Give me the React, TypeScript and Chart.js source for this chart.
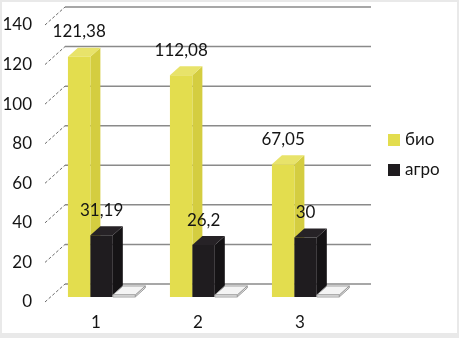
import React, { useEffect, useRef } from 'react';
import { Chart, registerables } from 'chart.js';

Chart.register(...registerables);

const categories = ['1', '2', '3'];
const seriesNames = ['био', 'агро', ''];
const bioValues = [121.38, 112.08, 67.05];
const agroValues = [31.19, 26.2, 30];
const thirdValues = [0, 0, 0];
const bioLabels = ['121,38', '112,08', '67,05'];
const agroLabels = ['31,19', '26,2', '30'];
const yMin = 0;
const yMax = 140;
const yStep = 20;

const FONT_SIZE = 17;
const FONT = `${FONT_SIZE}px Lato, "Open Sans", sans-serif`;
const TEXT = '#141414';
const WALL_DX = 20;
const WALL_DY = 18;
const D0 = 0.28;
const D1 = 0.78;

const palette = [
  { front: '#e3dd4e', side: '#d4cd40', top: '#e8e36a', stroke: null },
  { front: '#1f1c1f', side: '#151315', top: '#262226', stroke: null },
  { front: '#ffffff', side: '#e4e4e4', top: '#f4f4f4', stroke: '#9a9a9a' },
];

const threeD = {
  id: 'threeD',
  beforeDraw(chart: any) {
    const { ctx, width, height } = chart;
    ctx.save();
    ctx.fillStyle = '#e9e9e9';
    ctx.fillRect(0, 0, width, height);
    ctx.fillStyle = '#ffffff';
    ctx.fillRect(2, 2, width - 4, height - 7);
    ctx.restore();
  },
  beforeDatasetsDraw(chart: any) {
    const { ctx, chartArea, scales } = chart;
    const y = scales.y;
    ctx.save();
    for (let v = yMin; v <= yMax; v += yStep) {
      const yf = y.getPixelForValue(v);
      ctx.strokeStyle = '#8a8a8a';
      ctx.lineWidth = 1.5;
      ctx.setLineDash([]);
      ctx.beginPath();
      ctx.moveTo(chartArea.left + WALL_DX, yf - WALL_DY);
      ctx.lineTo(chartArea.right + WALL_DX, yf - WALL_DY);
      ctx.stroke();
      ctx.strokeStyle = '#6a6a6a';
      ctx.lineWidth = 1;
      ctx.setLineDash([3, 2]);
      ctx.beginPath();
      ctx.moveTo(chartArea.left, yf);
      ctx.lineTo(chartArea.left + WALL_DX, yf - WALL_DY);
      ctx.stroke();
    }
    ctx.restore();
  },
  afterDatasetsDraw(chart: any) {
    const { ctx } = chart;
    const px = (x: number, d: number) => x + d * WALL_DX;
    const py = (v: number, d: number) => v - d * WALL_DY;
    const bdx = (D1 - D0) * WALL_DX;
    const bdy = (D1 - D0) * WALL_DY;
    ctx.save();
    const n = categories.length;
    const fronts: any[] = [];
    for (let i = 0; i < n; i++) {
      for (let j = 0; j < chart.data.datasets.length; j++) {
        const el: any = chart.getDatasetMeta(j).data[i];
        const c = palette[j];
        const xl = px(el.x - el.width / 2, D0);
        const xr = px(el.x + el.width / 2, D0);
        const yb = py(el.base, D0);
        let yt = py(el.y, D0);
        if (yb - yt < 2) yt = yb - 2;
        const poly = (pts: number[][], fill: string) => {
          ctx.beginPath();
          ctx.moveTo(pts[0][0], pts[0][1]);
          for (let k = 1; k < pts.length; k++) ctx.lineTo(pts[k][0], pts[k][1]);
          ctx.closePath();
          ctx.fillStyle = fill;
          ctx.fill();
          if (c.stroke) {
            ctx.strokeStyle = c.stroke;
            ctx.lineWidth = 1;
            ctx.stroke();
          }
        };
        poly([[xr, yt], [xr + bdx, yt - bdy], [xr + bdx, yb - bdy], [xr, yb]], c.side);
        poly([[xl, yt], [xl + bdx, yt - bdy], [xr + bdx, yt - bdy], [xr, yt]], c.top);
        poly([[xl, yt], [xr, yt], [xr, yb], [xl, yb]], c.front);
        fronts.push({ i, j, cx: (xl + xr) / 2, yt });
      }
    }
    ctx.font = FONT;
    ctx.fillStyle = TEXT;
    ctx.textAlign = 'center';
    ctx.textBaseline = 'middle';
    fronts.forEach((f) => {
      if (f.j === 0) ctx.fillText(bioLabels[f.i], f.cx, f.yt - 25);
      if (f.j === 1) ctx.fillText(agroLabels[f.i], f.cx, f.yt - 25);
    });
    const legendX = 388;
    const legendY = [140, 170];
    [0, 1].forEach((j) => {
      ctx.fillStyle = palette[j].front;
      ctx.fillRect(legendX, legendY[j] - 6, 12, 12);
      ctx.fillStyle = TEXT;
      ctx.textAlign = 'left';
      ctx.fillText(seriesNames[j], legendX + 17, legendY[j]);
    });
    ctx.restore();
  },
};

export default function App() {
  const ref = useRef<HTMLCanvasElement>(null);
  useEffect(() => {
    if (!ref.current) return;
    const chart = new Chart(ref.current, {
      type: 'bar',
      data: {
        labels: categories,
        datasets: [bioValues, agroValues, thirdValues].map((d, j) => ({
          label: seriesNames[j],
          data: d,
          backgroundColor: 'rgba(0,0,0,0)',
          borderWidth: 0,
          categoryPercentage: 0.66,
          barPercentage: 1,
        })),
      },
      options: {
        responsive: false,
        animation: false,
        layout: { padding: { left: 0, top: 25, right: 108, bottom: 0 } },
        plugins: { legend: { display: false }, tooltip: { enabled: false } },
        scales: {
          x: {
            grid: { display: false },
            border: { display: false },
            ticks: { font: { family: 'Lato', size: FONT_SIZE }, color: TEXT, padding: 2 },
            afterFit: (s: any) => { s.height = 36; },
          },
          y: {
            min: yMin,
            max: yMax,
            grid: { display: false },
            border: { display: false },
            ticks: { stepSize: yStep, font: { family: 'Lato', size: FONT_SIZE }, color: TEXT, padding: 5 },
            afterFit: (s: any) => { s.width = 45; },
          },
        },
      },
      plugins: [threeD],
    });
    return () => chart.destroy();
  }, []);
  return (
    <div style={{ position: 'fixed', left: 0, top: 0, width: 459, height: 338 }}>
      <canvas ref={ref} width={459} height={338} style={{ width: 459, height: 338, display: 'block' }} />
    </div>
  );
}
